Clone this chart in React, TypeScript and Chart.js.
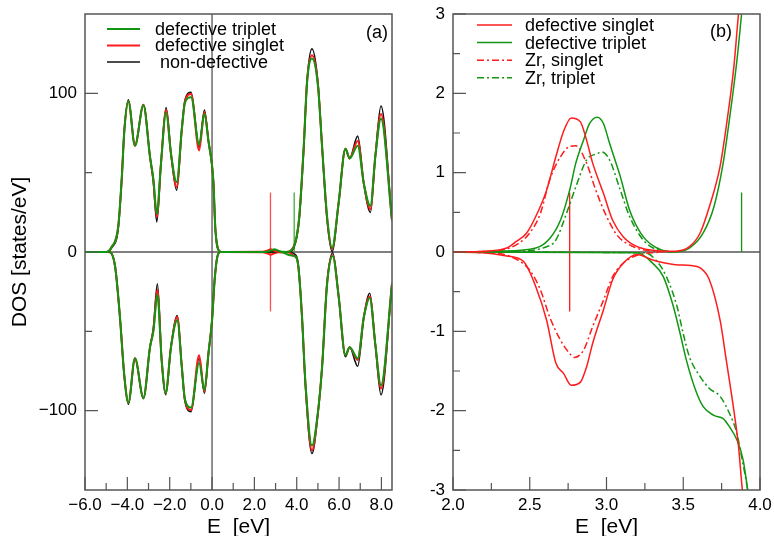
import { useEffect, useRef } from 'react';
import { Chart, registerables } from 'chart.js';

Chart.register(...registerables);

const FONT = "'Liberation Sans', Arial, Helvetica, sans-serif";
const RED = 'rgb(255,28,28)';
const GREEN = 'rgb(18,150,18)';
const BLACK = '#111111';
const AXIS = '#555555';
const DASH_DOT = [7, 3, 2, 3];

// ---------------- Panel (a): total DOS ----------------
const A_UP_E = [-6.0, -5.0, -4.75, -4.43, -4.27, -4.14, -3.95, -3.64, -3.24, -2.93, -2.77, -2.61, -2.41, -2.17, -1.94, -1.67, -1.43, -1.28, -0.99, -0.61, -0.36, -0.17, 0.06, 0.16, 0.35, 0.5, 2.4, 2.6, 2.77, 2.94, 3.1, 3.3, 3.5, 3.7, 3.86, 4.0, 4.12, 4.33, 4.49, 4.72, 5.0, 5.2, 5.43, 5.67, 5.98, 6.3, 6.5, 6.88, 7.17, 7.48, 7.71, 7.98, 8.5];
const A_UP_SINGLET = [0, 0, 3, 16, 45, 77, 95, 67, 92.6, 60, 45, 22, 56, 89.5, 62, 41, 77, 94.7, 99.6, 64, 88, 70, 45, 14, 0.5, 0, 0.1, 0.8, 1.7, 0.8, 0.2, 0, 0, 0.8, 3.5, 10, 22, 66, 108, 124, 106, 66, 22, 2, 31, 65, 59, 70, 43, 27, 60, 87, 20];
const A_UP_NONDEF = [0, 0, 2.5, 15, 45, 77, 96, 67, 93, 60, 44, 19, 56, 91, 62, 39, 77, 95.5, 100.6, 66, 89.5, 70, 45, 14, 0.5, 0, 0, 0, 0, 0, 0, 0, 0, 0.2, 2.5, 9, 21, 65, 108, 128, 107, 66, 21, 0.3, 31, 65, 59, 73, 43, 25, 60, 92, 20];
const A_UP_TRIPLET = [0, 0, 3, 16, 45, 77, 95, 67, 92.5, 60, 46, 24, 56, 88, 62, 44, 77, 94, 97.5, 68, 87, 70, 45, 14, 0.5, 0, 0, 0.2, 0.9, 1.7, 1.0, 0.1, 0, 0.6, 3.2, 10, 22, 66, 107, 122, 105, 66, 23, 2.5, 31, 65, 59, 67, 43, 29, 60, 84, 20];

const A_DN_E = [-6.0, -4.9, -4.58, -4.35, -4.14, -3.95, -3.64, -3.24, -2.93, -2.77, -2.58, -2.38, -2.19, -1.94, -1.64, -1.43, -1.28, -0.99, -0.61, -0.36, -0.17, 0.0, 0.12, 0.25, 0.4, 2.4, 2.6, 2.77, 2.94, 3.1, 3.3, 3.5, 3.7, 3.86, 4.0, 4.09, 4.25, 4.41, 4.72, 5.0, 5.2, 5.43, 5.7, 5.98, 6.3, 6.5, 6.88, 7.17, 7.45, 7.71, 7.98, 8.5];
const A_DN_SINGLET = [0, 0, -9, -41, -78.5, -95, -67, -92, -60, -49, -24, -68, -89, -60, -41, -72, -93, -99.6, -65, -88, -64, -43, -18, -3, 0, -0.1, -0.8, -1.7, -0.9, -0.2, -0.1, -0.15, -0.6, -2.5, -4, -11, -41, -83, -125, -101.6, -72, -20, -2, -28, -65, -60, -68, -41, -28, -58, -86, -20];
const A_DN_NONDEF = [0, 0, -9, -41, -78.5, -96, -67, -92.5, -60, -48, -20, -68, -90, -60, -40, -72, -94, -100.6, -67, -89, -64, -43, -18, -3, 0, 0, 0, 0, 0, 0, 0, 0, 0, -1, -3, -10, -41, -84, -127, -102, -72, -20, -0.5, -28, -66, -60, -72, -41, -26, -58, -90, -20];
const A_DN_TRIPLET = [0, 0, -9, -41, -78.5, -95, -67, -92, -60, -50, -27, -68, -89, -60, -43, -72, -93, -98, -70, -87, -64, -43, -18, -3, 0, 0, 0, 0, 0, 0, -0.15, -1.2, -2.06, -2.4, -4, -11, -41, -82, -122, -101, -72, -21, -2.5, -28, -65, -60, -67, -41, -29, -58, -84, -20];

const A_X_TICKS = [-6, -4, -2, 0, 2, 4, 6, 8];
const A_X_MINOR = [-5, -3, -1, 1, 3, 5, 7];
const A_Y_TICKS = [-100, 0, 100];
const A_Y_MINOR = [-50, 50];

// Fermi-level markers
const FERMI_SINGLET = 2.76;
const FERMI_TRIPLET = 3.88;
const A_MARK_SINGLET_Y = [-37.5, 37.5];
const A_MARK_TRIPLET_Y = [0, 37.5];

// ---------------- Panel (b): gap region ----------------
const B_SING_UP_E = [2.0, 2.2, 2.35, 2.41, 2.48, 2.54, 2.61, 2.67, 2.72, 2.77, 2.83, 2.87, 2.91, 2.98, 3.04, 3.11, 3.2, 3.33, 3.45, 3.54, 3.61, 3.67, 3.74, 3.78, 3.83, 3.86, 3.92];
const B_SING_UP = [0, 0.01, 0.05, 0.13, 0.24, 0.45, 0.78, 1.2, 1.52, 1.69, 1.64, 1.41, 1.12, 0.74, 0.4, 0.19, 0.067, 0.016, 0.01, 0.067, 0.24, 0.57, 1.08, 1.58, 2.34, 3.0, 4.0];
const B_SING_DN_E = [2.0, 2.2, 2.35, 2.46, 2.54, 2.61, 2.67, 2.72, 2.77, 2.83, 2.87, 2.91, 2.98, 3.04, 3.11, 3.2, 3.3, 3.45, 3.55, 3.61, 3.67, 3.74, 3.78, 3.83, 3.86, 3.885, 3.92];
const B_SING_DN = [0, -0.01, -0.05, -0.12, -0.44, -0.86, -1.4, -1.53, -1.68, -1.64, -1.45, -1.15, -0.73, -0.35, -0.14, -0.03, -0.1, -0.16, -0.17, -0.2, -0.35, -0.86, -1.36, -2.0, -2.45, -3.0, -3.6];
const B_TRIP_UP_E = [2.0, 2.3, 2.54, 2.63, 2.7, 2.76, 2.8, 2.85, 2.89, 2.94, 2.98, 3.02, 3.09, 3.15, 3.24, 3.33, 3.43, 3.54, 3.63, 3.7, 3.76, 3.8, 3.85, 3.88, 3.93];
const B_TRIP_UP = [0, 0.01, 0.05, 0.17, 0.4, 0.78, 1.12, 1.41, 1.62, 1.7, 1.62, 1.37, 0.95, 0.53, 0.19, 0.05, 0.0, 0.05, 0.24, 0.57, 1.12, 1.66, 2.42, 3.0, 4.0];
const B_TRIP_DN_E = [2.0, 3.2, 3.3, 3.37, 3.43, 3.48, 3.52, 3.58, 3.63, 3.7, 3.76, 3.8, 3.85, 3.89, 3.92, 3.95];
const B_TRIP_DN = [0, -0.01, -0.14, -0.31, -0.65, -1.03, -1.36, -1.74, -1.95, -2.06, -2.1, -2.2, -2.37, -2.62, -3.0, -3.4];

const B_ZR_SING_UP_E = [2.0, 2.3, 2.42, 2.5, 2.57, 2.63, 2.7, 2.76, 2.8, 2.87, 2.93, 3.0, 3.07, 3.17, 3.3, 3.45];
const B_ZR_SING_UP = [0, 0.02, 0.1, 0.24, 0.49, 0.91, 1.2, 1.33, 1.34, 1.12, 0.78, 0.45, 0.21, 0.07, 0.01, 0];
const B_ZR_SING_DN_E = [2.0, 2.3, 2.42, 2.5, 2.57, 2.63, 2.7, 2.76, 2.79, 2.85, 2.91, 2.98, 3.04, 3.11, 3.2, 3.35];
const B_ZR_SING_DN = [0, -0.02, -0.1, -0.23, -0.48, -0.82, -1.11, -1.28, -1.33, -1.24, -0.94, -0.61, -0.31, -0.14, -0.04, 0];
const B_ZR_TRIP_UP_E = [2.0, 2.4, 2.6, 2.67, 2.74, 2.8, 2.87, 2.94, 2.97, 3.02, 3.09, 3.15, 3.24, 3.33, 3.45];
const B_ZR_TRIP_UP = [0, 0.01, 0.06, 0.15, 0.49, 0.82, 1.16, 1.24, 1.26, 1.16, 0.78, 0.45, 0.15, 0.03, 0];
const B_ZR_TRIP_DN_E = [2.0, 3.25, 3.33, 3.39, 3.46, 3.5, 3.54, 3.61, 3.67, 3.74, 3.8, 3.85, 3.88, 3.92, 3.95];
const B_ZR_TRIP_DN = [0, -0.01, -0.12, -0.31, -0.69, -1.03, -1.32, -1.57, -1.72, -1.82, -2.03, -2.29, -2.58, -3.0, -3.4];

const B_MARK_SINGLET_Y = [-0.75, 0.75];
const B_MARK_TRIPLET_Y = [0, 0.75];

const B_X_TICKS = [2.0, 2.5, 3.0, 3.5, 4.0];
const B_X_MINOR = [2.25, 2.75, 3.25, 3.75];
const B_Y_TICKS = [-3, -2, -1, 0, 1, 2, 3];
const B_Y_MINOR = [-2.5, -1.5, -0.5, 0.5, 1.5, 2.5];

// ---------------- helpers ----------------
const pts = (xs: number[], ys: number[]) => xs.map((x, i) => ({ x, y: ys[i] }));

function curve(label: string, xs: number[], ys: number[], color: string, width: number, dash: number[] = [], inLegend = false): any {
  return {
    label,
    data: pts(xs, ys),
    borderColor: color,
    backgroundColor: color,
    borderWidth: width,
    borderDash: dash,
    pointRadius: 0,
    fill: false,
    cubicInterpolationMode: 'monotone',
    clip: 0,
    inLegend,
  };
}

function marker(label: string, e: number, ys: number[], color: string): any {
  return {
    label,
    data: ys.map((y) => ({ x: e, y })),
    borderColor: color,
    borderWidth: 1.3,
    pointRadius: 0,
    fill: false,
    clip: 0,
  };
}

const panelPlugin = {
  id: 'panel',
  beforeDatasetsDraw(chart: any, _a: any, opts: any) {
    const { ctx, chartArea: ca, scales } = chart;
    ctx.save();
    ctx.strokeStyle = AXIS;
    ctx.lineWidth = 1.3;
    ctx.beginPath();
    const y0 = scales.y.getPixelForValue(0);
    ctx.moveTo(ca.left, y0);
    ctx.lineTo(ca.right, y0);
    if (opts.zeroX) {
      const x0 = scales.x.getPixelForValue(0);
      ctx.moveTo(x0, ca.top);
      ctx.lineTo(x0, ca.bottom);
    }
    ctx.stroke();
    ctx.restore();
  },
  afterDatasetsDraw(chart: any, _a: any, opts: any) {
    const { ctx, chartArea: ca, scales } = chart;
    ctx.save();
    ctx.strokeStyle = AXIS;
    ctx.lineWidth = 1.5;
    ctx.strokeRect(ca.left, ca.top, ca.right - ca.left, ca.bottom - ca.top);
    ctx.lineWidth = 1.2;
    ctx.beginPath();
    const tick = (vals: number[], len: number, axis: 'x' | 'y') => {
      vals.forEach((v) => {
        if (axis === 'x') {
          const p = scales.x.getPixelForValue(v);
          ctx.moveTo(p, ca.bottom);
          ctx.lineTo(p, ca.bottom - len);
        } else {
          const p = scales.y.getPixelForValue(v);
          ctx.moveTo(ca.left, p);
          ctx.lineTo(ca.left + len, p);
        }
      });
    };
    tick(opts.xMajor, 13, 'x');
    tick(opts.xMinor, 7, 'x');
    tick(opts.yMajor, 13, 'y');
    tick(opts.yMinor, 7, 'y');
    ctx.stroke();

    // legend (inside plot)
    const lg = opts.legend;
    const items = chart.data.datasets.filter((d: any) => d.inLegend);
    ctx.font = `18px ${FONT}`;
    ctx.textBaseline = 'middle';
    ctx.textAlign = 'left';
    items.forEach((d: any, i: number) => {
      const y = ca.top + lg.top + i * lg.step;
      ctx.save();
      ctx.strokeStyle = d.borderColor;
      ctx.lineWidth = d.borderWidth;
      ctx.setLineDash(d.borderDash || []);
      ctx.beginPath();
      ctx.moveTo(ca.left + lg.x1, y);
      ctx.lineTo(ca.left + lg.x2, y);
      ctx.stroke();
      ctx.restore();
      ctx.fillStyle = '#000';
      ctx.fillText(d.label, ca.left + lg.tx, y + 1);
    });

    // panel tag
    ctx.textAlign = 'right';
    ctx.fillStyle = '#000';
    ctx.fillText(opts.tag, ca.right - opts.tagRight, ca.top + opts.tagTop);
    ctx.restore();
  },
};

const minusLong = (s: string) => s.replace('-', '\u2212');

function axisX(min: number, max: number, ticks: number[], fmt: (v: number) => string): any {
  return {
    type: 'linear',
    min,
    max,
    grid: { display: false, drawTicks: false },
    border: { display: false },
    ticks: {
      autoSkip: false,
      maxRotation: 0,
      minRotation: 0,
      padding: 5,
      color: '#000',
      font: { size: 17, family: FONT },
      callback: (v: number) => fmt(v),
    },
    afterBuildTicks: (s: any) => {
      s.ticks = ticks.map((value) => ({ value }));
    },
    afterFit: (s: any) => {
      s.height = 46;
      s.paddingLeft = 0;
      s.paddingRight = 0;
    },
    title: {
      display: true,
      text: 'E  [eV]',
      color: '#000',
      font: { size: 21, family: FONT, lineHeight: 1 },
      padding: { top: 0, bottom: -1.5 },
    },
  };
}

function axisY(min: number, max: number, ticks: number[], width: number, fmt: (v: number) => string, title?: string): any {
  return {
    type: 'linear',
    min,
    max,
    grid: { display: false, drawTicks: false },
    border: { display: false },
    ticks: {
      autoSkip: false,
      padding: 8,
      color: '#000',
      font: { size: 17, family: FONT },
      callback: (v: number) => fmt(v),
    },
    afterBuildTicks: (s: any) => {
      s.ticks = ticks.map((value) => ({ value }));
    },
    afterFit: (s: any) => {
      s.width = width;
      s.paddingTop = 0;
      s.paddingBottom = 0;
    },
    title: title
      ? {
          display: true,
          text: title,
          color: '#000',
          font: { size: 21, family: FONT, lineHeight: 1 },
          padding: { top: 10, bottom: 0 },
        }
      : { display: false },
  };
}

function configA(): any {
  return {
    type: 'line',
    data: {
      datasets: [
        curve('defective triplet', A_UP_E, A_UP_TRIPLET, GREEN, 2, [], true),
        curve('defective singlet', A_UP_E, A_UP_SINGLET, RED, 2, [], true),
        curve(' non-defective', A_UP_E, A_UP_NONDEF, BLACK, 1.6, [], true),
        curve('triplet down', A_DN_E, A_DN_TRIPLET, GREEN, 2),
        curve('singlet down', A_DN_E, A_DN_SINGLET, RED, 2),
        curve('non-defective down', A_DN_E, A_DN_NONDEF, BLACK, 1.6),
        marker('singlet Fermi level', FERMI_SINGLET, A_MARK_SINGLET_Y, 'rgb(255,80,80)'),
        marker('triplet Fermi level', FERMI_TRIPLET, A_MARK_TRIPLET_Y, 'rgb(60,170,60)'),
      ],
    },
    options: {
      responsive: false,
      animation: false,
      layout: { padding: { left: 0, right: 8, top: 14, bottom: 0 } },
      scales: {
        x: axisX(-6, 8.5, A_X_TICKS, (v) => minusLong(v.toFixed(1))),
        y: axisY(-150, 150, A_Y_TICKS, 85, (v) => minusLong(String(v)), 'DOS [states/eV]'),
      },
      plugins: {
        legend: { display: false },
        tooltip: { enabled: false },
        panel: {
          zeroX: true,
          xMajor: A_X_TICKS,
          xMinor: A_X_MINOR,
          yMajor: A_Y_TICKS,
          yMinor: A_Y_MINOR,
          legend: { x1: 22, x2: 55, tx: 70, top: 15, step: 16.5 },
          tag: '(a)',
          tagRight: 4,
          tagTop: 19,
        },
      },
    },
    plugins: [panelPlugin],
  };
}

function configB(): any {
  return {
    type: 'line',
    data: {
      datasets: [
        curve('defective singlet', B_SING_UP_E, B_SING_UP, RED, 1.5, [], true),
        curve('defective triplet', B_TRIP_UP_E, B_TRIP_UP, GREEN, 1.5, [], true),
        curve('Zr, singlet', B_ZR_SING_UP_E, B_ZR_SING_UP, RED, 1.5, DASH_DOT, true),
        curve('Zr, triplet', B_ZR_TRIP_UP_E, B_ZR_TRIP_UP, GREEN, 1.5, DASH_DOT, true),
        curve('singlet down', B_SING_DN_E, B_SING_DN, RED, 1.5),
        curve('triplet down', B_TRIP_DN_E, B_TRIP_DN, GREEN, 1.5),
        curve('Zr singlet down', B_ZR_SING_DN_E, B_ZR_SING_DN, RED, 1.5, DASH_DOT),
        curve('Zr triplet down', B_ZR_TRIP_DN_E, B_ZR_TRIP_DN, GREEN, 1.5, DASH_DOT),
        marker('singlet Fermi level', FERMI_SINGLET, B_MARK_SINGLET_Y, RED),
        marker('triplet Fermi level', FERMI_TRIPLET, B_MARK_TRIPLET_Y, GREEN),
      ],
    },
    options: {
      responsive: false,
      animation: false,
      layout: { padding: { left: 0, right: 14, top: 14, bottom: 0 } },
      scales: {
        x: axisX(2, 4, B_X_TICKS, (v) => v.toFixed(1)),
        y: axisY(-3, 3, B_Y_TICKS, 53, (v) => String(v)),
      },
      plugins: {
        legend: { display: false },
        tooltip: { enabled: false },
        panel: {
          zeroX: false,
          xMajor: B_X_TICKS,
          xMinor: B_X_MINOR,
          yMajor: B_Y_TICKS,
          yMinor: B_Y_MINOR,
          legend: { x1: 24, x2: 59, tx: 72, top: 11, step: 17.6 },
          tag: '(b)',
          tagRight: 28,
          tagTop: 18,
        },
      },
    },
    plugins: [panelPlugin],
  };
}

export default function App() {
  const refA = useRef<HTMLCanvasElement>(null);
  const refB = useRef<HTMLCanvasElement>(null);

  useEffect(() => {
    if (!refA.current || !refB.current) return;
    const a = new Chart(refA.current, configA());
    const b = new Chart(refB.current, configB());
    return () => {
      a.destroy();
      b.destroy();
    };
  }, []);

  return (
    <div style={{ position: 'absolute', left: 0, top: 0, width: 774, height: 536, background: '#fff', overflow: 'hidden' }}>
      <canvas ref={refA} width={400} height={536} style={{ position: 'absolute', left: 0, top: 0, width: 400, height: 536 }} />
      <canvas ref={refB} width={374} height={536} style={{ position: 'absolute', left: 400, top: 0, width: 374, height: 536 }} />
    </div>
  );
}
